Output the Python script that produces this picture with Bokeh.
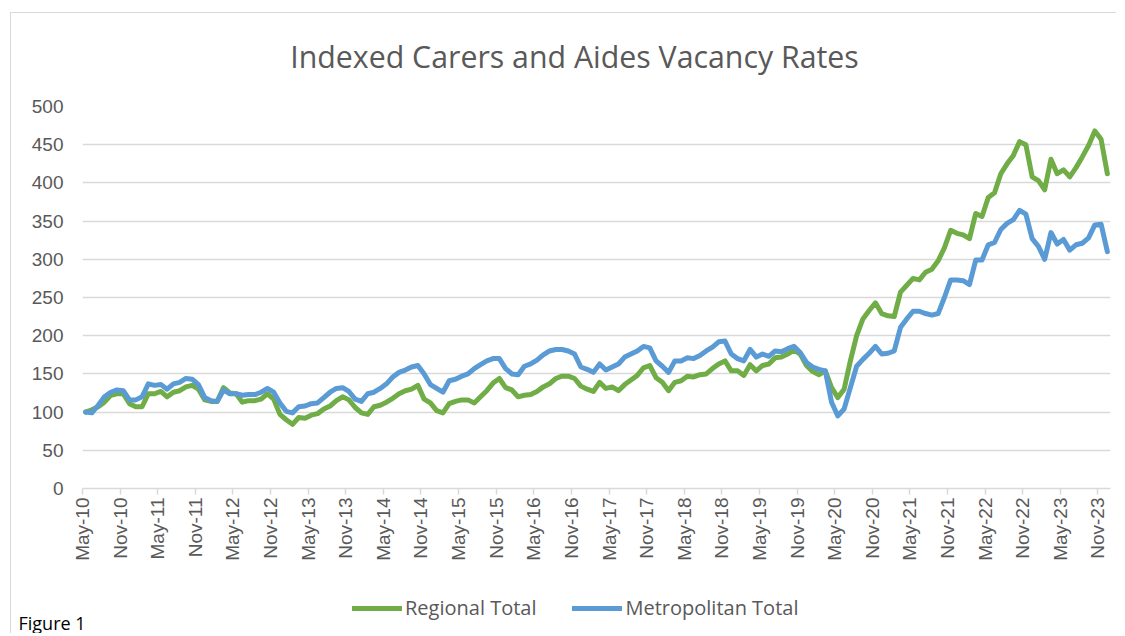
import numpy as np
import pandas as pd
from bokeh.plotting import figure
from bokeh.layouts import column
from bokeh.models import Range1d, FixedTicker, Legend, LegendItem, Label, Plot
from bokeh.embed import file_html
from bokeh.resources import INLINE

# ---------------- data ----------------
months = pd.date_range("2010-05-01", "2023-12-01", freq="MS")  # monthly observations

regional_total = [
    100, 103, 107, 113, 122, 124, 124, 111, 107, 107,
    124, 124, 127, 120, 126, 128, 133, 135, 130, 116,
    114, 114, 132, 125, 124, 113, 115, 115, 117, 124,
    117, 97, 90, 84, 93, 92, 96, 98, 104, 108,
    115, 120, 116, 106, 99, 97, 107, 109, 113, 118,
    124, 128, 130, 135, 117, 112, 102, 99, 111, 114,
    116, 116, 112, 120, 128, 138, 144, 132, 129, 120,
    122, 123, 127, 133, 137, 144, 147, 147, 144, 134,
    130, 127, 139, 131, 133, 128, 136, 142, 148, 158,
    161, 145, 139, 128, 139, 141, 147, 146, 149, 150,
    157, 163, 167, 154, 154, 148, 162, 154, 161, 163,
    171, 172, 176, 181, 176, 161, 153, 149, 154, 132,
    119, 130, 167, 200, 222, 233, 243, 229, 226, 225,
    257, 266, 275, 273, 283, 287, 298, 315, 338, 334,
    332, 327, 360, 356, 381, 387, 412, 425, 436, 454,
    450, 408, 403, 391, 431, 412, 417, 408, 420, 434,
    449, 468, 457, 412,
]

metropolitan_total = [
    100, 99, 109, 120, 126, 129, 128, 116, 116, 120,
    137, 135, 136, 130, 137, 139, 144, 143, 136, 119,
    115, 114, 129, 124, 124, 122, 123, 123, 126, 131,
    126, 112, 101, 99, 107, 108, 111, 112, 119, 126,
    131, 132, 127, 117, 114, 124, 126, 131, 137, 146,
    152, 155, 159, 161, 150, 136, 131, 126, 141, 143,
    147, 150, 157, 162, 167, 170, 170, 157, 150, 149,
    160, 163, 168, 175, 180, 182, 182, 180, 176, 159,
    156, 152, 163, 155, 159, 163, 172, 176, 180, 186,
    184, 167, 160, 152, 167, 167, 171, 170, 174, 180,
    185, 192, 193, 176, 170, 167, 182, 172, 176, 173,
    180, 179, 183, 186, 178, 165, 159, 156, 154, 113,
    95, 104, 132, 160, 169, 177, 186, 176, 177, 180,
    211, 222, 232, 232, 229, 227, 229, 250, 273, 273,
    272, 267, 299, 299, 319, 322, 339, 347, 352, 364,
    359, 327, 317, 300, 335, 320, 326, 312, 319, 321,
    328, 345, 346, 310,
]

tick_labels = [
    "May-10", "Nov-10", "May-11", "Nov-11", "May-12", "Nov-12", "May-13",
    "Nov-13", "May-14", "Nov-14", "May-15", "Nov-15", "May-16", "Nov-16",
    "May-17", "Nov-17", "May-18", "Nov-18", "May-19", "Nov-19", "May-20",
    "Nov-20", "May-21", "Nov-21", "May-22", "Nov-22", "May-23", "Nov-23",
]

y_ticks = [0, 50, 100, 150, 200, 250, 300, 350, 400, 450, 500]

series_names = ["Regional Total", "Metropolitan Total"]
series_colors = ["#70AD47", "#5B9BD5"]
series_values = [regional_total, metropolitan_total]

# ---------------- geometry ----------------
n = len(months)
x = np.arange(n) + 0.5            # mid-month position on a month axis
x_end = n
tick_pos = [6 * i for i in range(len(tick_labels))]

W = 1105
H0 = 81           # title strip
H1 = 481          # chart part
H2 = 58           # legend strip
LEFT, RIGHT, TOP = 71, 6, 12
BOTTOM = H1 - TOP - 382

has_frame_align = "frame_align" in Plot.properties()


def strip(height):
    s = figure(width=W, height=height, x_range=Range1d(0, W), y_range=Range1d(0, height),
               x_axis_type=None, y_axis_type=None, title=None,
               output_backend="svg", toolbar_location=None,
               min_border_left=0, min_border_right=0, min_border_top=0, min_border_bottom=0)
    s.outline_line_color = None
    s.background_fill_color = "white"
    s.border_fill_color = "white"
    if has_frame_align:
        s.frame_align = False
    return s


# ---------------- title strip ----------------
p0 = strip(H0)
title = Label(x=563, y=38, text="Indexed Carers and Aides Vacancy Rates",
              text_align="center", text_baseline="alphabetic",
              text_font="Open Sans", text_font_size="30.3px", text_color="#595959")
p0.add_layout(title)

# ---------------- chart ----------------
p = figure(width=W, height=H1, x_range=Range1d(0, x_end), y_range=Range1d(0, 500),
           title=None, output_backend="svg", toolbar_location=None,
           min_border_left=LEFT, min_border_right=RIGHT,
           min_border_top=TOP, min_border_bottom=BOTTOM)
p.outline_line_color = None
p.background_fill_color = "white"
p.border_fill_color = "white"
if has_frame_align:
    p.frame_align = False

for vals, col in zip(series_values, series_colors):
    p.line(x, vals, line_color=col, line_width=5, line_join="round", line_cap="round")

# x axis
xa = p.xaxis[0]
xa.ticker = FixedTicker(ticks=tick_pos)
xa.major_label_overrides = {t: lab for t, lab in zip(tick_pos, tick_labels)}
xa.major_label_orientation = np.pi / 2
xa.axis_line_color = "#d9d9d9"
xa.axis_line_width = 1.5
xa.major_tick_line_color = "#d9d9d9"
xa.major_tick_line_width = 1.5
xa.major_tick_out = 6
xa.major_tick_in = 0
xa.minor_tick_line_color = None
xa.major_label_standoff = 3
xa.major_label_text_font = "Liberation Sans"
xa.major_label_text_font_size = "19px"
xa.major_label_text_color = "#595959"

# y axis
ya = p.yaxis[0]
ya.ticker = FixedTicker(ticks=y_ticks)
ya.axis_line_color = None
ya.major_tick_line_color = None
ya.minor_tick_line_color = None
ya.major_tick_out = 0
ya.major_tick_in = 0
ya.major_label_standoff = 19
ya.major_label_text_font = "Liberation Sans"
ya.major_label_text_font_size = "19px"
ya.major_label_text_color = "#595959"

p.xgrid.grid_line_color = None
p.ygrid.grid_line_color = "#d9d9d9"
p.ygrid.grid_line_width = 1.5

# ---------------- legend strip ----------------
p2 = strip(H2)
legend_x = 341 if has_frame_align else 270

items = []
for name, vals, col in zip(series_names, series_values, series_colors):
    # same series drawn in the strip; its values lie above this strip's range,
    # so only the legend sample shows
    r = p2.line(x, vals, line_color=col, line_width=5, line_cap="round")
    items.append(LegendItem(label=name, renderers=[r]))

legend = Legend(items=items, orientation="horizontal", location=(legend_x, 12),
                glyph_width=50, glyph_height=20, label_height=20,
                label_standoff=3, spacing=36,
                padding=0, margin=0, border_line_color=None, background_fill_alpha=0,
                label_text_font="Open Sans", label_text_font_size="20px",
                label_text_color="#595959")
p2.add_layout(legend)

fig_label = Label(x=7, y=-1, text="Figure 1", text_align="left", text_baseline="bottom",
                  text_font="Open Sans", text_font_size="18px", text_color="#000000")
p2.add_layout(fig_label)

layout = column(p0, p, p2, spacing=0)
layout.styles = {"margin-left": "10px", "margin-top": "12px",
                 "border-left": "1px solid #d9d9d9", "border-top": "1px solid #d9d9d9"}

open("out.html", "w").write(file_html(layout, INLINE))
